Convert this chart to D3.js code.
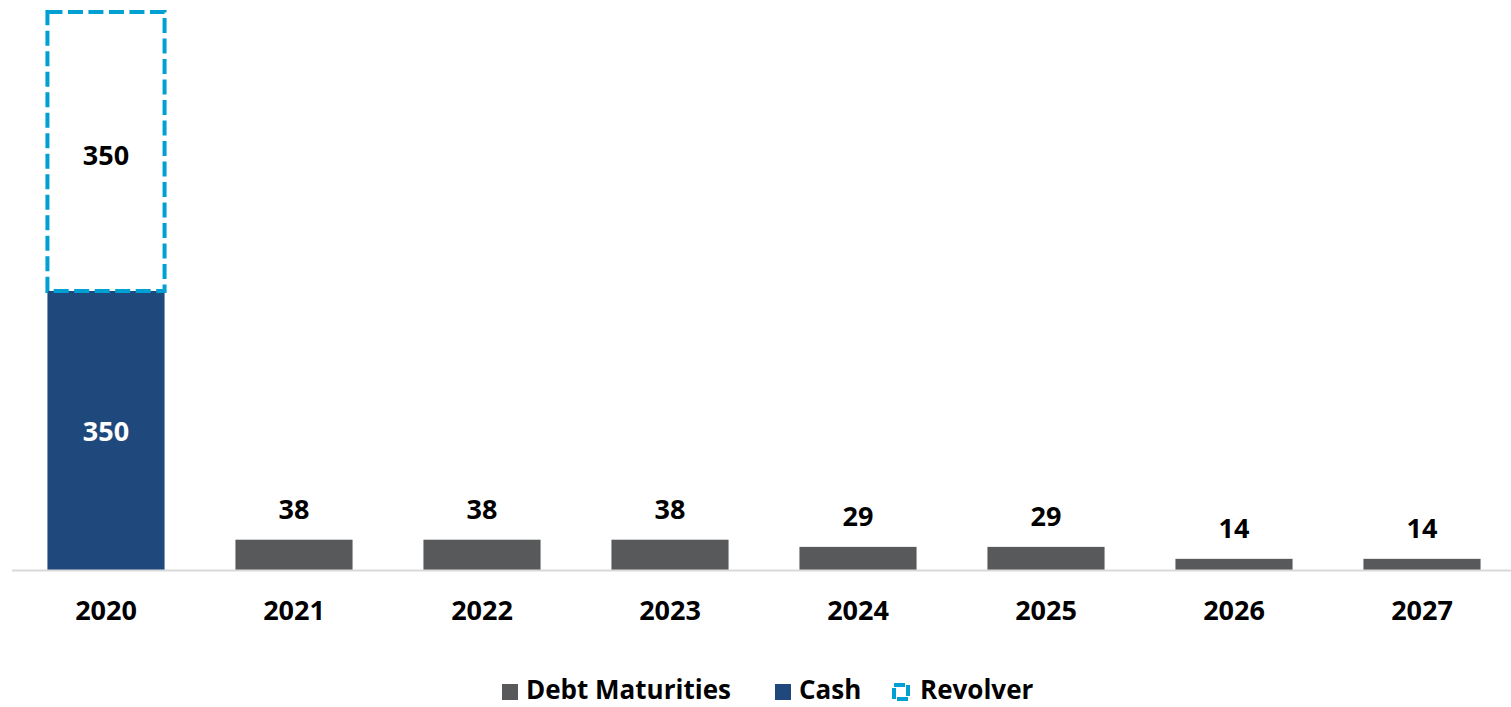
<!DOCTYPE html>
<html>
<head>
<meta charset="utf-8">
<script src="https://cdn.jsdelivr.net/npm/d3@7"></script>
<style>
  html, body { margin: 0; padding: 0; background: #ffffff; }
  svg text { font-family: "Open Sans", Lato, sans-serif; font-weight: 700; }
</style>
</head>
<body>
<svg id="chart" width="1511" height="707"></svg>
<script>
// Maturity profile data
const years = ["2020", "2021", "2022", "2023", "2024", "2025", "2026", "2027"];
const debtMaturities = [null, 38, 38, 38, 29, 29, 14, 14];
const cash = [350, null, null, null, null, null, null, null];
const revolver = [350, null, null, null, null, null, null, null];
const legendItems = ["Debt Maturities", "Cash", "Revolver"];

const colors = { debt: "#58595b", cash: "#1f497d", revolver: "#00a0d2", axis: "#d9d9d9" };
const FONT = 27;

const svg = d3.select("#chart");
const W = 1511;
const margin = { left: 12, right: 0, top: 12, bottom: 137 };
const baseY = 707 - margin.bottom; // 570

const x = d3.scaleBand().domain(years).range([margin.left, margin.left + 8 * 188]).paddingInner(0.377).paddingOuter(0.1885);
const y = d3.scaleLinear().domain([0, 700]).range([baseY, margin.top]);

// Debt maturity bars
const debtData = years.map((yr, i) => ({ yr, v: debtMaturities[i] })).filter(d => d.v != null);
svg.append("g").selectAll("rect").data(debtData).join("rect")
  .attr("x", d => x(d.yr)).attr("width", x.bandwidth())
  .attr("y", d => y(d.v)).attr("height", d => baseY - y(d.v))
  .attr("fill", colors.debt);

svg.append("g").selectAll("text").data(debtData).join("text")
  .attr("x", d => x(d.yr) + x.bandwidth() / 2).attr("y", d => y(d.v) - 21)
  .attr("text-anchor", "middle").attr("font-size", FONT).attr("fill", "#000")
  .text(d => d.v);

// Cash bars with revolver stacked on top
const stackData = years.map((yr, i) => ({ yr, c: cash[i], r: revolver[i] })).filter(d => d.c != null);
svg.append("g").selectAll("rect").data(stackData).join("rect")
  .attr("x", d => x(d.yr)).attr("width", x.bandwidth())
  .attr("y", d => y(d.c)).attr("height", d => baseY - y(d.c))
  .attr("fill", colors.cash);

svg.append("g").selectAll("text").data(stackData).join("text")
  .attr("x", d => x(d.yr) + x.bandwidth() / 2).attr("y", d => (y(d.c) + baseY) / 2 + 10)
  .attr("text-anchor", "middle").attr("font-size", FONT).attr("fill", "#ffffff")
  .text(d => d.c);

svg.append("g").selectAll("rect").data(stackData).join("rect")
  .attr("x", d => x(d.yr)).attr("width", x.bandwidth())
  .attr("y", d => y(d.c + d.r)).attr("height", d => y(d.c) - y(d.c + d.r))
  .attr("fill", "none").attr("stroke", colors.revolver).attr("stroke-width", 4)
  .attr("stroke-dasharray", "15,5.5");

svg.append("g").selectAll("text").data(stackData).join("text")
  .attr("x", d => x(d.yr) + x.bandwidth() / 2).attr("y", d => (y(d.c) + y(d.c + d.r)) / 2 + 13)
  .attr("text-anchor", "middle").attr("font-size", FONT).attr("fill", "#000")
  .text(d => d.r);

// Category axis
const axis = svg.append("g").attr("transform", `translate(0,${baseY})`)
  .call(d3.axisBottom(x).tickSize(0).tickPadding(31));
axis.select(".domain").remove();
axis.selectAll("text").attr("font-size", FONT).attr("fill", "#000")
  .style("font-family", "'Open Sans', Lato, sans-serif").style("font-weight", 700);
svg.append("line").attr("x1", margin.left).attr("x2", W).attr("y1", baseY + 0.5).attr("y2", baseY + 0.5)
  .attr("stroke", colors.axis).attr("stroke-width", 2);

// Legend
const legend = svg.append("g").attr("transform", "translate(0,692)");
const legendX = [502, 775, 892];
legendItems.forEach((name, i) => {
  const g = legend.append("g").attr("transform", `translate(${legendX[i]},0)`);
  if (i < 2) {
    g.append("rect").attr("x", 0).attr("y", -8).attr("width", 16).attr("height", 16)
      .attr("fill", i === 0 ? colors.debt : colors.cash);
  } else {
    g.append("rect").attr("x", 2).attr("y", -7).attr("width", 14).attr("height", 14)
      .attr("fill", "none").attr("stroke", colors.revolver).attr("stroke-width", 4)
      .attr("stroke-dasharray", "11,3");
  }
  g.append("text").attr("x", i < 2 ? 24 : 28).attr("y", 7).attr("font-size", 26).attr("fill", "#000").text(name);
});
</script>
</body>
</html>
